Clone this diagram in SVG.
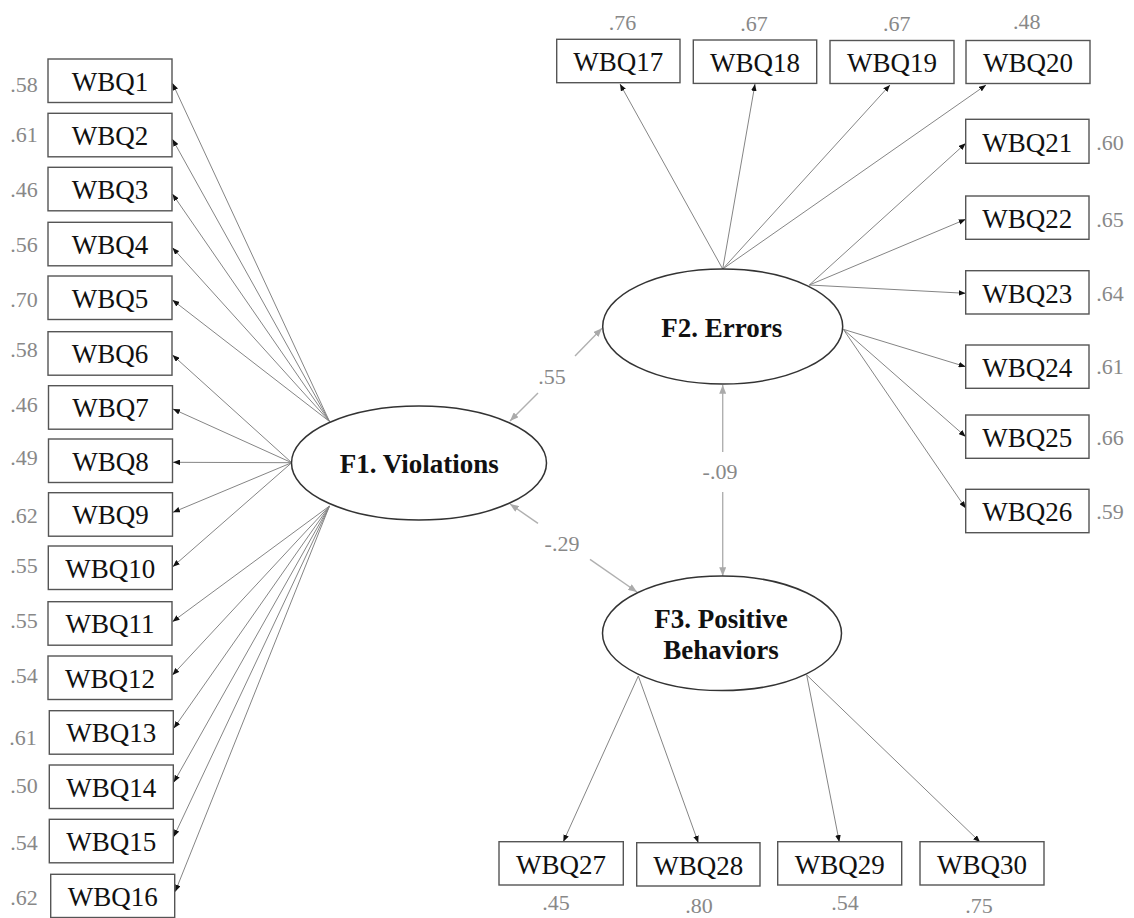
<svg xmlns="http://www.w3.org/2000/svg" width="1134" height="918" viewBox="0 0 1134 918">
<style>
.box{fill:#fff;stroke:#555;stroke-width:1.4}
.bt{font-family:"Liberation Serif","Times New Roman",serif;font-size:27px;fill:#111;text-anchor:middle}
.lab{font-family:"Liberation Serif","Times New Roman",serif;font-size:22px;fill:#888;text-anchor:middle}
.el{fill:#fff;stroke:#333;stroke-width:1.5}
.ft{font-family:"Liberation Serif","Times New Roman",serif;font-size:27px;font-weight:bold;fill:#111;text-anchor:middle}
.ld{stroke:#858585;stroke-width:1;fill:none;marker-end:url(#ah)}
.cr{stroke:#b0b0b0;stroke-width:1.4;fill:none;marker-end:url(#ag)}
</style>
<defs>
<marker id="ah" viewBox="0 0 10 8" refX="10" refY="4" markerWidth="7" markerHeight="5.6" markerUnits="userSpaceOnUse" orient="auto"><path d="M0,0 L10,4 L0,8 z" fill="#111"/></marker>
<marker id="ag" viewBox="0 0 10 8" refX="10" refY="4" markerWidth="9" markerHeight="7" markerUnits="userSpaceOnUse" orient="auto"><path d="M0,0 L10,4 L0,8 z" fill="#aaa"/></marker>
</defs>
<rect width="1134" height="918" fill="#fff"/>
<g id="connectors">
<line class="ld" x1="329.5" y1="421.5" x2="172.5" y2="83.3"/>
<line class="ld" x1="329.5" y1="421.5" x2="172.5" y2="139.3"/>
<line class="ld" x1="329.5" y1="421.5" x2="172.5" y2="194"/>
<line class="ld" x1="329.5" y1="421.5" x2="172.5" y2="247.7"/>
<line class="ld" x1="329.5" y1="421.5" x2="172.5" y2="300"/>
<line class="ld" x1="291.7" y1="462.7" x2="172.5" y2="355"/>
<line class="ld" x1="291.7" y1="462.7" x2="173" y2="409"/>
<line class="ld" x1="291.7" y1="462.7" x2="173" y2="462.3"/>
<line class="ld" x1="291.7" y1="462.7" x2="173" y2="512.3"/>
<line class="ld" x1="291.7" y1="462.7" x2="172.8" y2="566.7"/>
<line class="ld" x1="329.5" y1="506" x2="172.5" y2="621.7"/>
<line class="ld" x1="329.5" y1="506" x2="172.5" y2="675"/>
<line class="ld" x1="329.5" y1="506" x2="173.8" y2="728.3"/>
<line class="ld" x1="329.5" y1="506" x2="173.8" y2="782.3"/>
<line class="ld" x1="329.5" y1="506" x2="173.8" y2="836.7"/>
<line class="ld" x1="329.5" y1="506" x2="175.2" y2="891.7"/>
<line class="ld" x1="722.7" y1="269" x2="620" y2="84"/>
<line class="ld" x1="722.7" y1="269" x2="755" y2="84"/>
<line class="ld" x1="722.7" y1="269" x2="890" y2="85"/>
<line class="ld" x1="722.7" y1="269" x2="986" y2="85"/>
<line class="ld" x1="809.3" y1="285" x2="965.7" y2="143.3"/>
<line class="ld" x1="809.3" y1="285" x2="965.7" y2="219.3"/>
<line class="ld" x1="809.3" y1="285" x2="965.7" y2="293.3"/>
<line class="ld" x1="843.3" y1="329.3" x2="965.7" y2="366.7"/>
<line class="ld" x1="843.3" y1="329.3" x2="965.7" y2="436.7"/>
<line class="ld" x1="843.3" y1="329.3" x2="965.7" y2="508.3"/>
<line class="ld" x1="638.3" y1="676" x2="563.3" y2="841.7"/>
<line class="ld" x1="638.3" y1="676" x2="698.3" y2="842.7"/>
<line class="ld" x1="806.7" y1="675" x2="839.3" y2="842"/>
<line class="ld" x1="806.7" y1="675" x2="980" y2="842"/>
<line class="cr" x1="538" y1="393" x2="510" y2="421"/>
<line class="cr" x1="575" y1="356" x2="602" y2="328.3"/>
<line class="cr" x1="538" y1="523.4" x2="510" y2="504"/>
<line class="cr" x1="590" y1="559.4" x2="637" y2="592"/>
<line class="cr" x1="722.7" y1="452" x2="722.7" y2="385"/>
<line class="cr" x1="722.7" y1="492" x2="722.7" y2="576"/>
<text class="lab" x="552" y="384">.55</text>
<text class="lab" x="562" y="551">-.29</text>
<text class="lab" x="720" y="479">-.09</text>
</g>
<g id="F1"><ellipse class="el" cx="419" cy="463" rx="127.5" ry="57"/><text class="ft" x="419.3" y="472.7">F1. Violations</text></g>
<g id="F2"><ellipse class="el" cx="722.7" cy="326.5" rx="120" ry="57.5"/><text class="ft" x="721.7" y="337.3">F2. Errors</text></g>
<g id="F3"><ellipse class="el" cx="722" cy="633.3" rx="119.5" ry="57.3"/><text class="ft" x="721" y="628.3">F3. Positive</text><text class="ft" x="721" y="659.3">Behaviors</text></g>
<g id="WBQ1"><rect class="box" x="48" y="59" width="124" height="43.5"/><text class="bt" x="110" y="90.7">WBQ1</text><text class="lab" x="24" y="91.7">.58</text></g>
<g id="WBQ2"><rect class="box" x="48" y="113.3" width="124" height="43.5"/><text class="bt" x="110" y="145">WBQ2</text><text class="lab" x="24" y="141.7">.61</text></g>
<g id="WBQ3"><rect class="box" x="48" y="167.3" width="124" height="43.5"/><text class="bt" x="110" y="199">WBQ3</text><text class="lab" x="24" y="196.7">.46</text></g>
<g id="WBQ4"><rect class="box" x="48" y="222.3" width="124" height="43.5"/><text class="bt" x="110" y="254">WBQ4</text><text class="lab" x="24" y="251.7">.56</text></g>
<g id="WBQ5"><rect class="box" x="48" y="276" width="124" height="43.5"/><text class="bt" x="110" y="307.7">WBQ5</text><text class="lab" x="24" y="306.7">.70</text></g>
<g id="WBQ6"><rect class="box" x="48" y="331.7" width="124" height="43.5"/><text class="bt" x="110" y="363.4">WBQ6</text><text class="lab" x="24" y="356.7">.58</text></g>
<g id="WBQ7"><rect class="box" x="48.5" y="385.7" width="124" height="43.5"/><text class="bt" x="110.5" y="417.4">WBQ7</text><text class="lab" x="24" y="411.7">.46</text></g>
<g id="WBQ8"><rect class="box" x="48.5" y="439" width="124" height="43.5"/><text class="bt" x="110.5" y="470.7">WBQ8</text><text class="lab" x="24" y="465">.49</text></g>
<g id="WBQ9"><rect class="box" x="48.5" y="492.7" width="124" height="43.5"/><text class="bt" x="110.5" y="524.4">WBQ9</text><text class="lab" x="24" y="523.3">.62</text></g>
<g id="WBQ10"><rect class="box" x="48.3" y="546" width="124" height="43.5"/><text class="bt" x="110.3" y="577.7">WBQ10</text><text class="lab" x="24" y="573.3">.55</text></g>
<g id="WBQ11"><rect class="box" x="48" y="601.7" width="124" height="43.5"/><text class="bt" x="110" y="633.4">WBQ11</text><text class="lab" x="24" y="628.3">.55</text></g>
<g id="WBQ12"><rect class="box" x="48" y="656" width="124" height="43.5"/><text class="bt" x="110" y="687.7">WBQ12</text><text class="lab" x="24" y="683.3">.54</text></g>
<g id="WBQ13"><rect class="box" x="49.3" y="710.7" width="124" height="43.5"/><text class="bt" x="111.3" y="742.4">WBQ13</text><text class="lab" x="23" y="745">.61</text></g>
<g id="WBQ14"><rect class="box" x="49.3" y="765" width="124" height="43.5"/><text class="bt" x="111.3" y="796.7">WBQ14</text><text class="lab" x="24" y="793.3">.50</text></g>
<g id="WBQ15"><rect class="box" x="49.3" y="819.3" width="124" height="43.5"/><text class="bt" x="111.3" y="851">WBQ15</text><text class="lab" x="24" y="850">.54</text></g>
<g id="WBQ16"><rect class="box" x="50.7" y="874.3" width="124" height="43.2"/><text class="bt" x="112.7" y="906">WBQ16</text><text class="lab" x="24" y="905">.62</text></g>
<g id="WBQ17"><rect class="box" x="556.7" y="39.3" width="123.3" height="43.4"/><text class="bt" x="618.3" y="71">WBQ17</text><text class="lab" x="622.5" y="29.5">.76</text></g>
<g id="WBQ18"><rect class="box" x="693.3" y="40" width="123.4" height="43.4"/><text class="bt" x="755" y="71.7">WBQ18</text><text class="lab" x="754" y="30.5">.67</text></g>
<g id="WBQ19"><rect class="box" x="830" y="40.5" width="124" height="43"/><text class="bt" x="892" y="72">WBQ19</text><text class="lab" x="896.7" y="30.5">.67</text></g>
<g id="WBQ20"><rect class="box" x="966" y="40.5" width="124" height="43"/><text class="bt" x="1028" y="72">WBQ20</text><text class="lab" x="1026.7" y="29">.48</text></g>
<g id="WBQ21"><rect class="box" x="965.7" y="119.3" width="123.3" height="44"/><text class="bt" x="1027.3" y="151.5">WBQ21</text><text class="lab" x="1110" y="150">.60</text></g>
<g id="WBQ22"><rect class="box" x="965.7" y="196" width="123.3" height="43.3"/><text class="bt" x="1027.3" y="227.8">WBQ22</text><text class="lab" x="1110" y="226.5">.65</text></g>
<g id="WBQ23"><rect class="box" x="965.7" y="270.7" width="123.3" height="43.3"/><text class="bt" x="1027.3" y="302.5">WBQ23</text><text class="lab" x="1110" y="300.5">.64</text></g>
<g id="WBQ24"><rect class="box" x="965.7" y="345" width="123.3" height="43.3"/><text class="bt" x="1027.3" y="376.8">WBQ24</text><text class="lab" x="1110" y="374">.61</text></g>
<g id="WBQ25"><rect class="box" x="965.7" y="415" width="123.3" height="43.3"/><text class="bt" x="1027.3" y="446.8">WBQ25</text><text class="lab" x="1110" y="444.5">.66</text></g>
<g id="WBQ26"><rect class="box" x="965.7" y="489.3" width="123.3" height="43.4"/><text class="bt" x="1027.3" y="521">WBQ26</text><text class="lab" x="1110" y="518.5">.59</text></g>
<g id="WBQ27"><rect class="box" x="499" y="841.7" width="124.3" height="43.3"/><text class="bt" x="561" y="873.5">WBQ27</text><text class="lab" x="556" y="910">.45</text></g>
<g id="WBQ28"><rect class="box" x="636.7" y="842.7" width="123.3" height="43.3"/><text class="bt" x="698.3" y="874.5">WBQ28</text><text class="lab" x="699" y="913">.80</text></g>
<g id="WBQ29"><rect class="box" x="777.7" y="841.7" width="124" height="43.3"/><text class="bt" x="839.7" y="873.5">WBQ29</text><text class="lab" x="845" y="910">.54</text></g>
<g id="WBQ30"><rect class="box" x="920" y="841.7" width="124" height="43.3"/><text class="bt" x="982" y="873.5">WBQ30</text><text class="lab" x="979" y="913">.75</text></g>
</svg>
